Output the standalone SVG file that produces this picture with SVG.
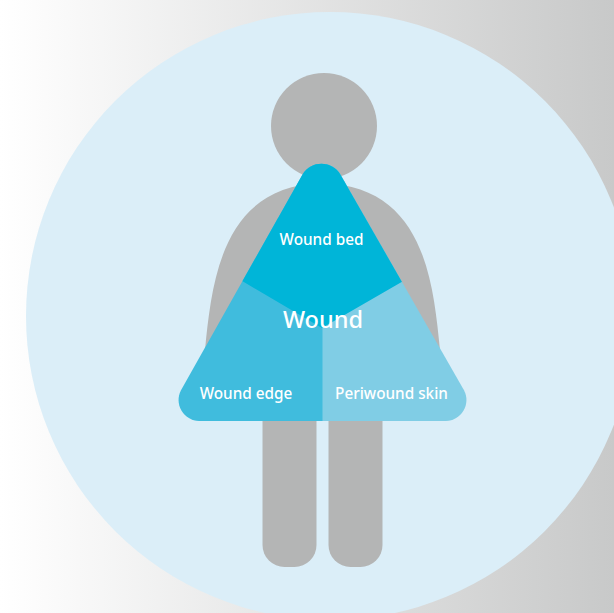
<svg xmlns="http://www.w3.org/2000/svg" width="614" height="613" viewBox="0 0 614 613">
<style>
.lbl{font-family:"Noto Sans","Open Sans",sans-serif;font-size:15.300px;font-weight:500;fill:#fff;text-anchor:middle}
.body{fill:#b4b5b5}
</style>
<defs><linearGradient id="bg" x1="0" x2="1" y1="0" y2="0"><stop offset="0" stop-color="#fff"/><stop offset="1" stop-color="#c8c9c9"/></linearGradient>
<clipPath id="tri"><path d="M302.700 174.200A22 22 0 0 1 340.300 174.200L464 390.200A21 21 0 0 1 446 421H199A21 21 0 0 1 181 390.200Z"/></clipPath></defs>
<rect width="614" height="613" fill="url(#bg)"/>
<circle cx="330" cy="316" r="304" fill="#dbeef8"/>
<g id="figure">
<circle class="body" cx="324" cy="126" r="53"/>
<path class="body" d="M205 350C212 280 222 186 322 183C424 186 433 280 440 350Z"/>
<path class="body" d="M262.500 415H316.500V545A22 22 0 0 1 294.500 567H284.500A22 22 0 0 1 262.500 545Z"/>
<path class="body" d="M328.500 415H382.500V545A22 22 0 0 1 360.500 567H350.500A22 22 0 0 1 328.500 545Z"/>
</g>
<g id="wound">
<g clip-path="url(#tri)">
<rect x="170" y="150" width="153" height="280" fill="#40bcdd"/>
<rect x="322.500" y="150" width="150" height="280" fill="#80cde5"/>
<path d="M200 150H440V260L402.500 281.500L322 328L243 281.500L200 257Z" fill="#00b5d8"/>
</g>
</g>
<g id="wound-bed"><text class="lbl" x="321.500" y="245">Wound bed</text></g>
<g id="wound-center"><text class="lbl" x="323" y="327.500" style="font-size:23.500px">Wound</text></g>
<g id="wound-edge"><text class="lbl" x="246" y="399">Wound edge</text></g>
<g id="periwound-skin"><text class="lbl" x="391.500" y="399">Periwound skin</text></g>
<g id="connectors"/>
</svg>
